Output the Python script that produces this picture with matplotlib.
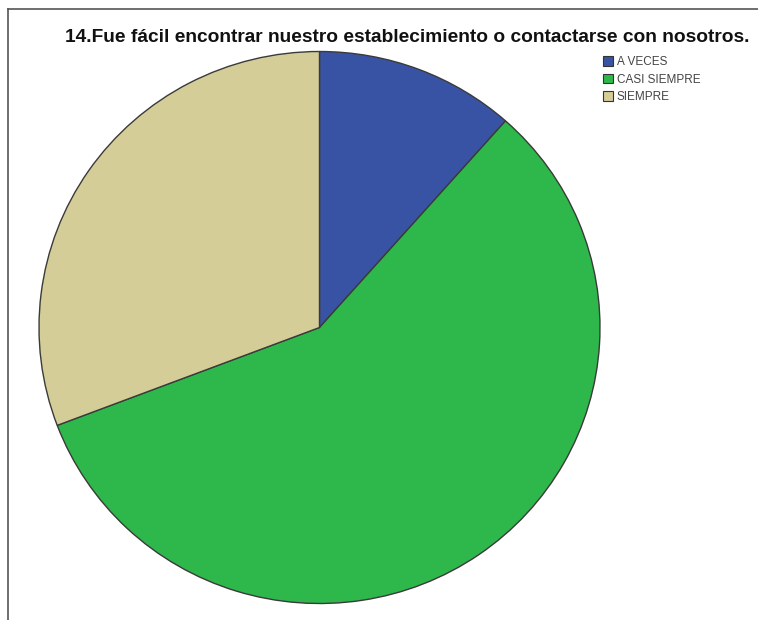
import matplotlib.pyplot as plt
from matplotlib.lines import Line2D
from matplotlib.patches import Patch

# Respuestas a la pregunta 14
categorias = ["A VECES", "CASI SIEMPRE", "SIEMPRE"]
frecuencias = [3, 15, 8]
colores = ["#3953a4", "#2eb84b", "#d4cd98"]

titulo = "14.Fue fácil encontrar nuestro establecimiento o contactarse con nosotros."

W, H = 758, 620
fig = plt.figure(figsize=(W / 100, H / 100), dpi=100)

# pie area in pixel coordinates (slightly wider than tall)
cx, cy, rx, ry = 319.5, 327.5, 280.5, 276
ax = fig.add_axes([(cx - rx) / W, (H - cy - ry) / H, 2 * rx / W, 2 * ry / H])
ax.pie(frecuencias, colors=colores, startangle=90, counterclock=False,
       radius=1, wedgeprops=dict(edgecolor="#3a3a3a", linewidth=1.0))
ax.set_xlim(-1, 1)
ax.set_ylim(-1, 1)
ax.set_aspect("auto")
ax.axis("off")

fig.text(407.5 / W, 1 - 38 / H, titulo, ha="center", va="center",
         fontsize=13.8, fontweight="bold", family="Liberation Sans", color="#111111")

handles = [Patch(facecolor=c, edgecolor="#333333", linewidth=0.8) for c in colores]
fig.legend(handles, categorias, loc="upper left",
           bbox_to_anchor=(595 / W, 1 - 48 / H), frameon=False,
           prop={"family": "Liberation Sans", "size": 8.5},
           labelcolor="#444444", handlelength=0.85, handleheight=0.85,
           handletextpad=0.3, labelspacing=0.45, borderpad=0.2)

# frame lines on top and left
fig.add_artist(Line2D([8 / W, 1], [1 - 9 / H, 1 - 9 / H], color="#555555", linewidth=1.2))
fig.add_artist(Line2D([8 / W, 8 / W], [0, 1 - 9 / H], color="#555555", linewidth=1.2))

fig.savefig("out.png", dpi=100)
